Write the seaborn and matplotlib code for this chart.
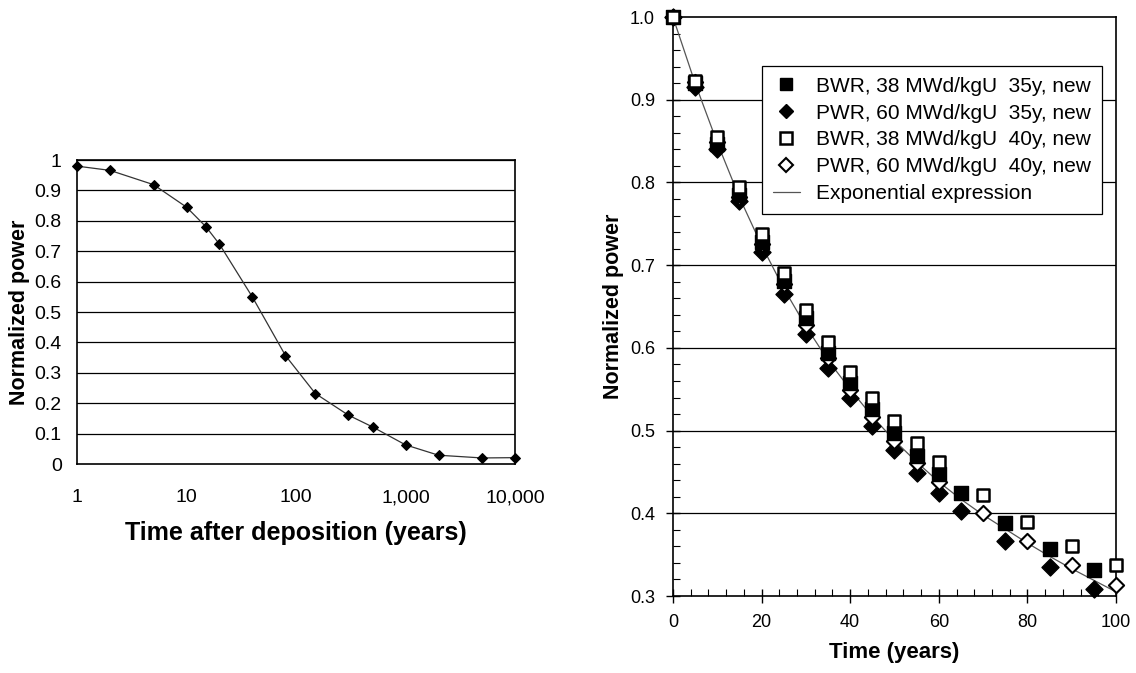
import matplotlib
matplotlib.use("Agg")
import matplotlib.pyplot as plt
import matplotlib.ticker as mticker
from matplotlib.lines import Line2D
import pandas as pd
import seaborn as sns

# left panel: normalized power vs time after deposition (log axis)
left_years = [1, 2, 5, 10, 15, 20, 40, 80, 150, 300, 500, 1000, 2000, 5000, 10000]
left_power = [0.98, 0.966, 0.919, 0.845, 0.781, 0.723, 0.549, 0.357, 0.232,
              0.161, 0.122, 0.063, 0.029, 0.020, 0.021]
left_xticks = [1, 10, 100, 1000, 10000]
left_xlabels = ["1", "10", "100", "1,000", "10,000"]

# right panel: decay curves for the four fuel cases
t35 = [0, 5, 10, 15, 20, 25, 30, 35, 40, 45, 50, 55, 60, 65, 75, 85, 95]
t40 = [0, 5, 10, 15, 20, 25, 30, 35, 40, 45, 50, 55, 60, 70, 80, 90, 100]
bwr35 = [1.0, 0.920, 0.846, 0.785, 0.728, 0.681, 0.636, 0.594, 0.557, 0.526,
         0.497, 0.469, 0.448, 0.425, 0.388, 0.357, 0.332]
pwr35 = [1.0, 0.915, 0.841, 0.777, 0.716, 0.665, 0.617, 0.576, 0.539, 0.506,
         0.476, 0.449, 0.425, 0.403, 0.366, 0.335, 0.309]
bwr40 = [1.0, 0.923, 0.855, 0.795, 0.738, 0.690, 0.646, 0.607, 0.571, 0.540,
         0.512, 0.485, 0.462, 0.422, 0.389, 0.361, 0.338]
pwr40 = [1.0, 0.921, 0.849, 0.783, 0.725, 0.677, 0.628, 0.588, 0.549, 0.516,
         0.488, 0.461, 0.438, 0.400, 0.366, 0.337, 0.313]
exp_t = [0, 5, 10, 15, 20, 25, 30, 35, 40, 45, 50, 55, 60, 65, 70, 75, 80, 85, 90, 95, 100]
exp_p = [1.0, 0.920, 0.848, 0.782, 0.724, 0.672, 0.626, 0.585, 0.550, 0.517, 0.488,
         0.462, 0.438, 0.417, 0.398, 0.381, 0.364, 0.348, 0.333, 0.319, 0.305]

labels = ["BWR, 38 MWd/kgU  35y, new", "PWR, 60 MWd/kgU  35y, new",
          "BWR, 38 MWd/kgU  40y, new", "PWR, 60 MWd/kgU  40y, new",
          "Exponential expression"]

sns.set_style("white")
plt.rcParams['font.family'] = ['Liberation Sans', 'DejaVu Sans']
plt.rcParams['axes.linewidth'] = 1.2
plt.rcParams['text.color'] = 'black'
plt.rcParams['axes.labelcolor'] = 'black'
plt.rcParams['xtick.color'] = 'black'
plt.rcParams['ytick.color'] = 'black'

fig = plt.figure(figsize=(11.36, 6.73), dpi=100)
ax1 = fig.add_axes([0.0678, 0.3105, 0.3856, 0.4517])
ax2 = fig.add_axes([0.5924, 0.1144, 0.3900, 0.8603])

# ---- left panel
left_df = pd.DataFrame({"year": left_years, "power": left_power})
for y in [i / 10 for i in range(1, 11)]:
    ax1.axhline(y, color="black", lw=0.9, zorder=0)
sns.lineplot(data=left_df, x="year", y="power", ax=ax1, color="#333333",
             lw=0.9, marker="D", markersize=5, markerfacecolor="black",
             markeredgecolor="black", zorder=3, clip_on=False)
ax1.set_xscale("log")
ax1.set_xlim(1, 10000)
ax1.set_ylim(0, 1)
ax1.set_xticks(left_xticks)
ax1.set_xticklabels(left_xlabels)
ax1.xaxis.set_minor_locator(mticker.NullLocator())
ax1.set_yticks([i / 10 for i in range(0, 11)])
ax1.set_yticklabels(["0"] + [f"{i / 10:g}" for i in range(1, 10)] + ["1"])
ax1.tick_params(axis="both", direction="out", length=5, width=1,
                labelsize=14, color="black", pad=6)
ax1.tick_params(axis="x", pad=13)
ax1.set_xlabel("Time after deposition (years)", fontsize=18, fontweight="bold", labelpad=11)
ax1.set_ylabel("Normalized power", fontsize=15.5, fontweight="bold", labelpad=3)
for s in ax1.spines.values():
    s.set_color("black")

# ---- right panel
for y in [0.4, 0.5, 0.6, 0.7, 0.8, 0.9]:
    ax2.axhline(y, color="black", lw=0.9, zorder=0)
exp_df = pd.DataFrame({"t": exp_t, "p": exp_p})
sns.lineplot(data=exp_df, x="t", y="p", ax=ax2, color="#555555", lw=0.9, zorder=2)

sns.scatterplot(x=t35, y=pwr35, ax=ax2, marker="D", s=75, color="black",
                edgecolor="black", linewidth=1, zorder=3, clip_on=False)
sns.scatterplot(x=t40, y=pwr40, ax=ax2, marker="D", s=60, color="white",
                edgecolor="black", linewidth=1.5, zorder=4, clip_on=False)
sns.scatterplot(x=t35, y=bwr35, ax=ax2, marker="s", s=95, color="black",
                edgecolor="black", linewidth=1, zorder=5, clip_on=False)
sns.scatterplot(x=t40, y=bwr40, ax=ax2, marker="s", s=85, color="white",
                edgecolor="black", linewidth=1.8, zorder=6, clip_on=False)

ax2.set_xlim(0, 100)
ax2.set_ylim(0.3, 1.0)
ax2.set_xticks([0, 20, 40, 60, 80, 100])
ax2.xaxis.set_minor_locator(mticker.MultipleLocator(4))
ax2.set_yticks([0.3, 0.4, 0.5, 0.6, 0.7, 0.8, 0.9, 1.0])
ax2.yaxis.set_major_formatter(mticker.FormatStrFormatter("%.1f"))
ax2.yaxis.set_minor_locator(mticker.MultipleLocator(0.02))
ax2.tick_params(axis="both", which="major", direction="inout", length=10,
                width=1, labelsize=13, color="black", pad=8)
ax2.tick_params(axis="both", which="minor", direction="in", length=5,
                width=0.8, color="black")
ax2.tick_params(axis="x", which="both", bottom=True)
ax2.tick_params(axis="y", which="both", left=True)
ax2.set_xlabel("Time (years)", fontsize=16, fontweight="bold", labelpad=8)
ax2.set_ylabel("Normalized power", fontsize=15.5, fontweight="bold", labelpad=4)
for s in ax2.spines.values():
    s.set_color("black")

handles = [
    Line2D([], [], ls="", marker="s", ms=9, mfc="black", mec="black"),
    Line2D([], [], ls="", marker="D", ms=7.5, mfc="black", mec="black"),
    Line2D([], [], ls="", marker="s", ms=8.5, mfc="white", mec="black", mew=1.8),
    Line2D([], [], ls="", marker="D", ms=7, mfc="white", mec="black", mew=1.5),
    Line2D([], [], color="#555555", lw=0.9),
]
leg = ax2.legend(handles, labels, loc="upper right", bbox_to_anchor=(0.968, 0.915),
                 fontsize=15, frameon=True, fancybox=False, framealpha=1,
                 edgecolor="black", handlelength=1.3, handletextpad=0.8,
                 borderpad=0.5, labelspacing=0.38, borderaxespad=0)
leg.get_frame().set_linewidth(0.9)

fig.savefig("out.png", dpi=100)
